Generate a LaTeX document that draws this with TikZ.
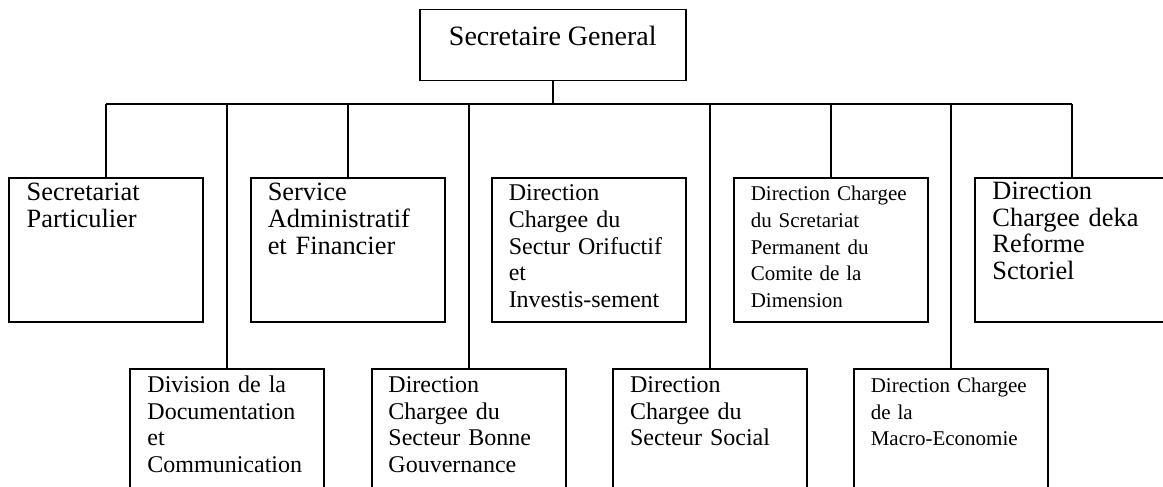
\documentclass[tikz,border=0pt]{standalone}
\usepackage{fontspec}
\setmainfont{Liberation Serif}
\begin{document}
\begin{tikzpicture}[x=1pt,y=-1pt,
  line width=1.5pt,
  unit/.style={draw, rectangle, inner sep=0pt, anchor=north west,
    minimum width=194pt, minimum height=144pt},
  head/.style={draw, rectangle, inner sep=0pt, anchor=north west,
    minimum width=266pt, minimum height=71pt},
  txt/.style={inner sep=0pt, anchor=base west, align=left, text width=185pt},
  big/.style={txt, font=\fontsize{26.4}{26.7}\selectfont},
  mid/.style={txt, font=\fontsize{24}{26.7}\selectfont},
  small/.style={txt, font=\fontsize{21}{26.7}\selectfont},
  link/.style={draw, line width=1.5pt}]
\useasboundingbox (0,0) rectangle (1163,487);
\clip (0,0) rectangle (1163,487);

% head of the organisation
\node[head] (sg) at (419,9) {};
\node[inner sep=0pt, anchor=base, font=\fontsize{28}{30}\selectfont]
  (sgt) at ([yshift=-37pt]sg.north) {Secretaire General};

% upper row of units
\node[unit] (u1) at (8,177) {};
\node[unit] (u2) at (250,177) {};
\node[unit] (u3) at (491,177) {};
\node[unit] (u4) at (733,177) {};
\node[unit] (u5) at (974,177) {};

% lower row of units
\node[unit] (l1) at (129,368) {};
\node[unit] (l2) at (371,368) {};
\node[unit] (l3) at (612,368) {};
\node[unit] (l4) at (853,368) {};

% unit titles
\node[big]   (u1t) at ([shift={(18,23.7)}]u1.north west) {Secretariat\\Particulier};
\node[big]   (u2t) at ([shift={(17,23.7)}]u2.north west) {Service\\Administratif\\et Financier};
\node[mid]   (u3t) at ([shift={(17,23.7)}]u3.north west) {Direction\\Chargee du\\Sectur Orifuctif\\et\\Investis-sement};
\node[small] (u4t) at ([shift={(17,23.7)}]u4.north west) {Direction Chargee\\du Scretariat\\Permanent du\\Comite de la\\Dimension};
\node[big]   (u5t) at ([shift={(17.7,22.3)}]u5.north west) {Direction\\Chargee deka\\Reforme\\Sctoriel};

\node[mid]   (l1t) at ([shift={(17.7,24.5)}]l1.north west) {Division de la\\Documentation\\et\\Communication};
\node[mid]   (l2t) at ([shift={(16.7,24.5)}]l2.north west) {Direction\\Chargee du\\Secteur Bonne\\Gouvernance};
\node[mid]   (l3t) at ([shift={(17.3,24.5)}]l3.north west) {Direction\\Chargee du\\Secteur Social};
\node[small] (l4t) at ([shift={(17,24.5)}]l4.north west) {Direction Chargee\\de la\\Macro-Economie};

% connectors
\coordinate (bus) at (0,104);
\draw[link] (sg.south) -- (sg.south |- bus);
\draw[link] (u1.north |- bus) -- (u5.north |- bus);
\foreach \n in {u1,u2,u4,u5,l1,l2,l3,l4}
  \draw[link] (\n.north |- bus) -- (\n.north);
\end{tikzpicture}
\end{document}
